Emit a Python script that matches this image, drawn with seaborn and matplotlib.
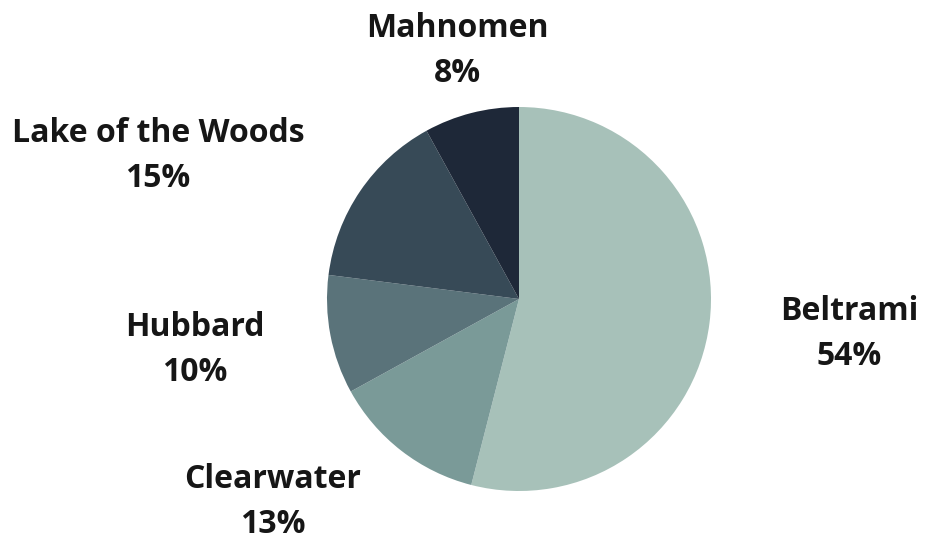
import matplotlib.pyplot as plt
import seaborn as sns

# data
counties = ["Beltrami", "Clearwater", "Hubbard", "Lake of the Woods", "Mahnomen"]
shares = [54, 13, 10, 15, 8]
colors = ["#a7c1b9", "#7a9a98", "#5a737a", "#374a57", "#1e2838"]

# label centres (pixel coords, y from top)
label_pos = {
    "Beltrami": (849, 334),
    "Clearwater": (273, 502),
    "Hubbard": (195, 350),
    "Lake of the Woods": (158, 156),
    "Mahnomen": (457, 51),
}

sns.set_theme(style="white")
plt.rcParams["font.family"] = ["Open Sans", "DejaVu Sans"]

W, H = 935, 541
fig = plt.figure(figsize=(W / 100, H / 100), dpi=100)
ax = fig.add_axes([0, 0, 1, 1])

ax.pie(shares, colors=colors, startangle=90, counterclock=False,
       center=(519, H - 299), radius=192,
       wedgeprops=dict(linewidth=0))

for name, val in zip(counties, shares):
    x, y = label_pos[name]
    ax.text(x, H - y, f"{name}\n{val}%", ha="center", va="center",
            fontsize=23, fontweight="bold", color="#161616",
            linespacing=1.5)

ax.set_xlim(0, W)
ax.set_ylim(0, H)
ax.set_aspect("equal")
ax.axis("off")

fig.savefig("out.png", dpi=100, facecolor="white")
